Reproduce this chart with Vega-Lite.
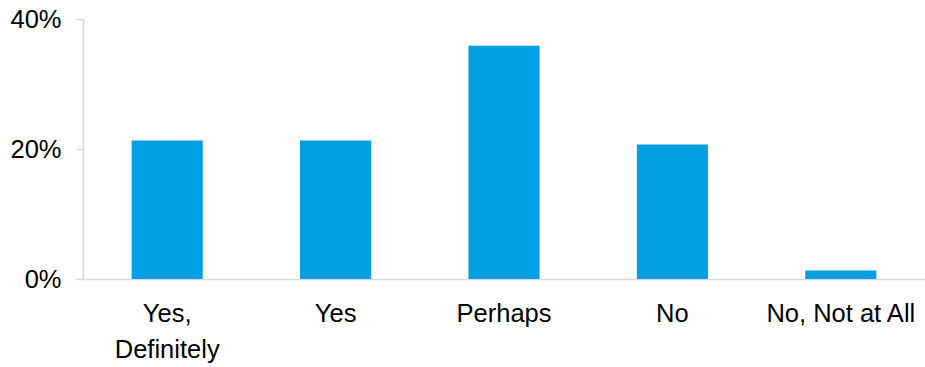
{
  "$schema": "https://vega.github.io/schema/vega-lite/v6.json",
  "autosize": "none",
  "width": 842,
  "height": 260,
  "padding": {"left": 83, "top": 19, "right": 0, "bottom": 88},
  "background": "white",
  "data": {
    "values": [
      {"answer": "Yes, Definitely", "share": 0.213},
      {"answer": "Yes", "share": 0.213},
      {"answer": "Perhaps", "share": 0.359},
      {"answer": "No", "share": 0.207},
      {"answer": "No, Not at All", "share": 0.013}
    ]
  },
  "config": {
    "view": {"stroke": null},
    "font": "Liberation Sans"
  },
  "mark": {"type": "bar", "color": "#009FE3"},
  "encoding": {
    "x": {
      "field": "answer",
      "type": "nominal",
      "sort": null,
      "scale": {"paddingInner": 0.578, "paddingOuter": 0.289},
      "axis": {
        "title": null,
        "labelAngle": 0,
        "labelFont": "Liberation Sans",
        "labelFontSize": 25.5,
        "labelColor": "#000000",
        "labelPadding": 22,
        "labelBaseline": "top",
        "labelLineHeight": 36,
        "labelExpr": "datum.label == 'Yes, Definitely' ? ['Yes,', 'Definitely'] : datum.label",
        "ticks": false,
        "domainColor": "#D9D9D9",
        "domainWidth": 1.5,
        "grid": false
      }
    },
    "y": {
      "field": "share",
      "type": "quantitative",
      "scale": {"domain": [0, 0.4]},
      "axis": {
        "title": null,
        "values": [0, 0.2, 0.4],
        "format": "~%",
        "labelFont": "Liberation Sans",
        "labelFontSize": 25.5,
        "labelColor": "#000000",
        "labelPadding": 15,
        "tickSize": 7,
        "tickColor": "#D9D9D9",
        "tickWidth": 1.5,
        "domainColor": "#D9D9D9",
        "domainWidth": 1.5,
        "grid": false
      }
    }
  }
}
